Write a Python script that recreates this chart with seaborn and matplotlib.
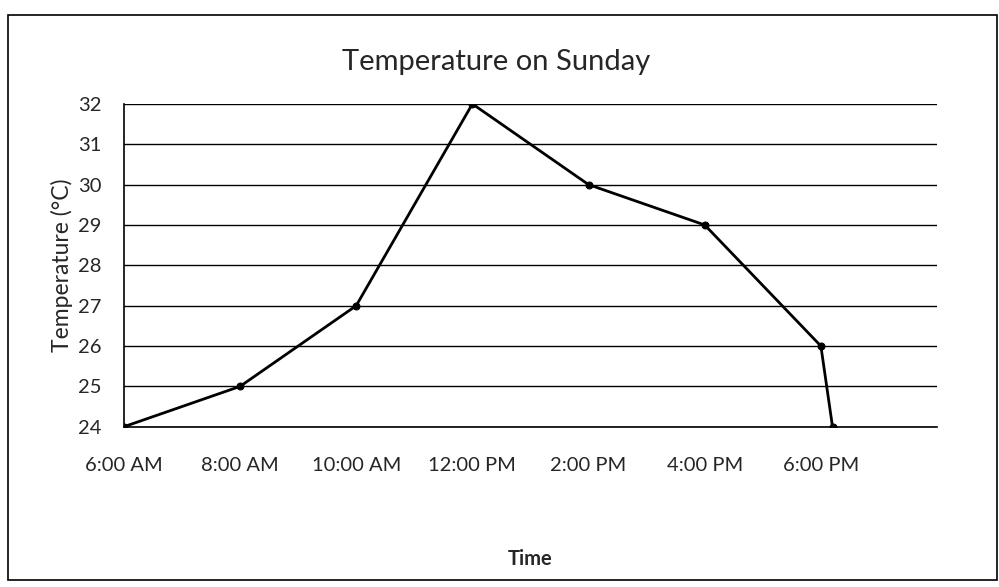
import matplotlib
matplotlib.use("Agg")
import matplotlib.pyplot as plt
import seaborn as sns
import pandas as pd
from matplotlib.patches import Rectangle

# hours of the day (24h clock), last point is the drop just after 6 PM
hours = [6, 8, 10, 12, 14, 16, 18, 18.2]
temps = [24, 25, 27, 32, 30, 29, 26, 24]
tick_hours = [6, 8, 10, 12, 14, 16, 18, 20]
tick_labels = ["6:00 AM", "8:00 AM", "10:00 AM", "12:00 PM", "2:00 PM", "4:00 PM", "6:00 PM", ""]
y_ticks = [24, 25, 26, 27, 28, 29, 30, 31, 32]


def main():
    sns.set_style("white")
    plt.rcParams['font.family'] = ['Lato', 'DejaVu Sans']

    df = pd.DataFrame({"hour": hours, "temp": temps})

    fig = plt.figure(figsize=(9.99, 5.87), dpi=100)
    ax = fig.add_axes([0.124, 0.273, 0.814, 0.550])

    sns.lineplot(data=df, x="hour", y="temp", ax=ax, color="black",
                 linewidth=2, marker="o", markersize=5, markeredgecolor="black",
                 sort=False)

    ax.set_xlim(6, 20)
    ax.set_ylim(24, 32)
    ax.set_xticks(tick_hours)
    ax.set_xticklabels(tick_labels, fontsize=14.5)
    ax.set_yticks(y_ticks)
    ax.tick_params(axis="y", labelsize=14.5, length=0, pad=16)
    ax.tick_params(axis="x", length=5, width=1, color="black", direction="out", pad=17)
    ax.yaxis.grid(True, color="black", linewidth=1)
    ax.xaxis.grid(False)
    for s in ["top", "right"]:
        ax.spines[s].set_visible(False)
    for s in ["left", "bottom"]:
        ax.spines[s].set_color("black")
        ax.spines[s].set_linewidth(1.2)

    ax.set_xlabel("Time", fontsize=14.5, fontweight="bold", labelpad=54)
    ax.set_ylabel("Temperature (°C)", fontsize=16.5, labelpad=4)
    fig.text(0.497, 0.894, "Temperature on Sunday", ha="center", va="center", fontsize=21)

    # outer chart border like the scanned Excel frame
    fig.patches.append(Rectangle((0.008, 0.012), 0.99, 0.962, transform=fig.transFigure,
                                 fill=False, edgecolor="black", linewidth=1.2))

    fig.savefig("out.png", dpi=100)


if __name__ == "__main__":
    main()
